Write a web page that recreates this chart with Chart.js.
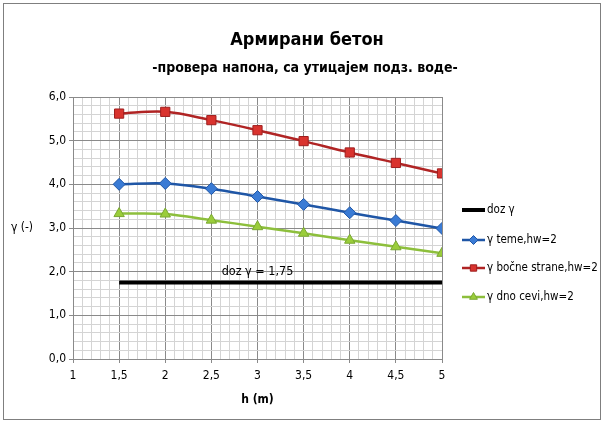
<!DOCTYPE html>
<html>
<head>
<meta charset="utf-8">
<script src="https://cdn.jsdelivr.net/npm/chart.js@4.4.1/dist/chart.umd.min.js"></script>
<style>
  html, body { margin: 0; padding: 0; background: #fff; }
  #wrap { width: 604px; height: 423px; }
</style>
</head>
<body>
<div id="wrap"><canvas id="myChart" width="604" height="423"></canvas></div>
<script>
// data
const hValues = [1.5, 2, 2.5, 3, 3.5, 4, 4.5, 5];
const temeValues = [4.00, 4.02, 3.90, 3.72, 3.54, 3.35, 3.17, 2.99];
const bocneValues = [5.62, 5.66, 5.47, 5.24, 4.99, 4.73, 4.49, 4.25];
const dnoValues = [3.33, 3.32, 3.18, 3.03, 2.88, 2.72, 2.57, 2.42];
const dozH = [1.5, 5];
const dozValues = [1.75, 1.75];

const seriesLabels = ["doz γ", "γ teme,hw=2", "γ bočne strane,hw=2", "γ dno cevi,hw=2"];
const chartTitle = "Армирани бетон";
const chartSubtitle = "-провера напона, са утицајем подз. воде-";
const FONT = "'Liberation Sans Narrow', 'DejaVu Sans Condensed', sans-serif";

const toPoints = (xs, ys) => xs.map((x, i) => ({ x: x, y: ys[i] }));
const isStep = (v, s) => Math.abs(v / s - Math.round(v / s)) < 1e-6;
const comma = (v, d) => v.toFixed(d).replace(".", ",");

// titles, y title, annotation, x title, legend, border
const extras = {
  id: "extras",
  afterDraw(chart) {
    const ctx = chart.ctx;
    const xs = chart.scales.x, ys = chart.scales.y;
    ctx.save();
    // outer border
    ctx.strokeStyle = "#7f7f7f";
    ctx.lineWidth = 1;
    ctx.strokeRect(3.5, 3.5, 597, 416);

    ctx.fillStyle = "#000";
    ctx.textBaseline = "middle";
    ctx.textAlign = "center";
    ctx.font = "bold 18px " + FONT;
    ctx.fillText(chartTitle, 307, 40);
    ctx.font = "bold 14px " + FONT;
    ctx.fillText(chartSubtitle, 305, 68);

    ctx.font = "12px " + FONT;
    ctx.fillText("γ (-)", 22, 228);

    ctx.font = "bold 12px " + FONT;
    ctx.fillText("h (m)", xs.getPixelForValue(3), 400);

    ctx.font = "12.5px " + FONT;
    ctx.fillText("doz γ = 1,75", xs.getPixelForValue(3), ys.getPixelForValue(1.75) - 11);

    // legend
    ctx.textAlign = "left";
    ctx.font = "11.5px " + FONT;
    const legY = [210, 240, 268, 297];
    chart.data.datasets.forEach((ds, i) => {
      const y = legY[i];
      ctx.strokeStyle = ds.borderColor;
      ctx.lineWidth = i === 0 ? 4 : 2.5;
      ctx.beginPath();
      ctx.moveTo(462, y);
      ctx.lineTo(485, y);
      ctx.stroke();
      if (i > 0) {
        ctx.fillStyle = ds.pointBackgroundColor;
        ctx.strokeStyle = ds.pointBorderColor;
        ctx.lineWidth = 1;
        Chart.helpers.drawPoint(ctx, {
          pointStyle: ds.pointStyle, radius: 4.5, rotation: 0, borderWidth: 1
        }, 473.5, y);
      }
      ctx.fillStyle = "#000";
      ctx.fillText(seriesLabels[i], 487, y);
    });
    ctx.restore();
  }
};

const ctxEl = document.getElementById("myChart").getContext("2d");

new Chart(ctxEl, {
  type: "scatter",
  data: {
    datasets: [
      {
        label: seriesLabels[0],
        data: toPoints(dozH, dozValues),
        showLine: true,
        borderColor: "#000000",
        backgroundColor: "#000000",
        borderWidth: 4,
        pointRadius: 0,
        pointStyle: "line"
      },
      {
        label: seriesLabels[1],
        data: toPoints(hValues, temeValues),
        showLine: true,
        tension: 0.35,
        borderColor: "#1f56a6",
        borderWidth: 2.5,
        pointStyle: "rectRot",
        pointRadius: 6,
        pointBackgroundColor: "#3a7bd5",
        pointBorderColor: "#1f56a6",
        pointBorderWidth: 1
      },
      {
        label: seriesLabels[2],
        data: toPoints(hValues, bocneValues),
        showLine: true,
        tension: 0.35,
        borderColor: "#b02424",
        borderWidth: 2.5,
        pointStyle: "rect",
        pointRadius: 6.5,
        pointBackgroundColor: "#d9332e",
        pointBorderColor: "#9e1e1e",
        pointBorderWidth: 1
      },
      {
        label: seriesLabels[3],
        data: toPoints(hValues, dnoValues),
        showLine: true,
        tension: 0.35,
        borderColor: "#8dbf3c",
        borderWidth: 2.5,
        pointStyle: "triangle",
        pointRadius: 6,
        pointBackgroundColor: "#9acd3a",
        pointBorderColor: "#7aa832",
        pointBorderWidth: 1
      }
    ]
  },
  options: {
    responsive: false,
    animation: false,
    layout: { padding: { top: 97, right: 162, left: 0, bottom: 0 } },
    plugins: {
      legend: { display: false },
      tooltip: { enabled: false },
      title: { display: false },
      subtitle: { display: false }
    },
    scales: {
      x: {
        type: "linear",
        min: 1,
        max: 5,
        afterFit: (s) => { s.height = 64; },
        ticks: {
          stepSize: 0.1,
          autoSkip: false,
          maxRotation: 0,
          padding: 6,
          color: "#000",
          font: { family: FONT, size: 12 },
          callback: (v) => isStep(v, 0.5) ? comma(v, isStep(v, 1) ? 0 : 1) : ""
        },
        grid: {
          tickLength: 4,
          color: (c) => isStep(c.tick.value, 0.5) ? "#8a8a8a" : "#d4d4d4",
          tickColor: (c) => isStep(c.tick.value, 0.5) ? "#8a8a8a" : "rgba(0,0,0,0)"
        },
        border: { color: "#8a8a8a" }
      },
      y: {
        min: 0,
        max: 6,
        afterFit: (s) => { s.width = 73; },
        ticks: {
          stepSize: 0.2,
          autoSkip: false,
          padding: 3,
          color: "#000",
          font: { family: FONT, size: 12 },
          callback: (v) => isStep(v, 1) ? comma(v, 1) : ""
        },
        grid: {
          tickLength: 4,
          color: (c) => isStep(c.tick.value, 1) ? "#8a8a8a" : "#d4d4d4",
          tickColor: (c) => isStep(c.tick.value, 1) ? "#8a8a8a" : "rgba(0,0,0,0)"
        },
        border: { color: "#8a8a8a" }
      }
    }
  },
  plugins: [extras]
});
</script>
</body>
</html>
